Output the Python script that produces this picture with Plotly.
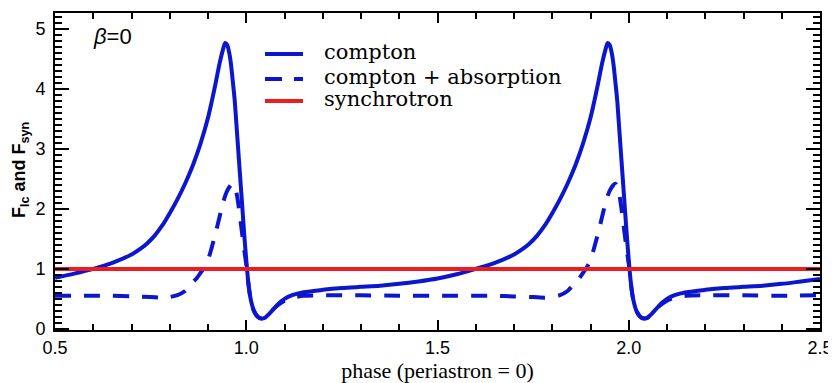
import plotly.graph_objects as go

# ---- data ----
phase = [
    0.50, 0.55, 0.60, 0.65, 0.70, 0.72, 0.74, 0.76, 0.78, 0.80, 0.82, 0.84, 0.86, 0.88, 0.90, 0.91, 0.92, 0.93, 0.94,
    0.945, 0.95, 0.955, 0.96, 0.965, 0.97, 0.975, 0.98, 0.985, 0.99, 0.995, 1.00, 1.005, 1.01, 1.015, 1.02,
    1.03, 1.04, 1.05, 1.06, 1.07, 1.08, 1.09, 1.10, 1.12, 1.15, 1.20, 1.25, 1.30, 1.35, 1.40, 1.45,
    1.50, 1.55, 1.60, 1.65, 1.70, 1.72, 1.74, 1.76, 1.78, 1.80, 1.82, 1.84, 1.86, 1.88, 1.90, 1.91, 1.92, 1.93, 1.94,
    1.945, 1.95, 1.955, 1.96, 1.965, 1.97, 1.975, 1.98, 1.985, 1.99, 1.995, 2.00, 2.005, 2.01, 2.015, 2.02,
    2.03, 2.04, 2.05, 2.06, 2.07, 2.08, 2.09, 2.10, 2.12, 2.15, 2.20, 2.25, 2.30, 2.35, 2.40, 2.45, 2.50,
]
compton = [
    0.85, 0.92, 1.00, 1.10, 1.24, 1.32, 1.42, 1.55, 1.72, 1.93, 2.16, 2.42, 2.72, 3.08, 3.52, 3.80, 4.10, 4.42, 4.68,
    4.77, 4.74, 4.62, 4.42, 4.12, 3.80, 3.35, 2.90, 2.45, 2.00, 1.55, 1.15, 0.80, 0.55, 0.40, 0.30,
    0.20, 0.17, 0.19, 0.25, 0.32, 0.39, 0.45, 0.50, 0.56, 0.61, 0.65, 0.68, 0.70, 0.72, 0.75, 0.79,
    0.84, 0.91, 1.00, 1.10, 1.24, 1.32, 1.42, 1.55, 1.72, 1.93, 2.16, 2.42, 2.72, 3.08, 3.52, 3.80, 4.10, 4.42, 4.68,
    4.77, 4.74, 4.62, 4.42, 4.12, 3.80, 3.35, 2.90, 2.45, 2.00, 1.55, 1.15, 0.80, 0.55, 0.40, 0.30,
    0.20, 0.17, 0.19, 0.25, 0.32, 0.39, 0.45, 0.50, 0.56, 0.61, 0.65, 0.68, 0.70, 0.72, 0.75, 0.79, 0.83,
]

phase_abs = [
    0.50, 0.55, 0.60, 0.65, 0.70, 0.75, 0.78, 0.80, 0.82, 0.84, 0.85, 0.86, 0.87, 0.88, 0.89, 0.90, 0.91, 0.92,
    0.93, 0.94, 0.95, 0.96, 0.965, 0.97, 0.975, 0.98, 0.985, 0.99, 0.995, 1.00, 1.005, 1.01, 1.015, 1.02,
    1.03, 1.04, 1.05, 1.06, 1.07, 1.08, 1.09, 1.10, 1.12, 1.15, 1.20, 1.30, 1.40,
    1.50, 1.55, 1.60, 1.65, 1.70, 1.75, 1.78, 1.80, 1.82, 1.84, 1.85, 1.86, 1.87, 1.88, 1.89, 1.90, 1.91, 1.92,
    1.93, 1.94, 1.95, 1.96, 1.965, 1.97, 1.975, 1.98, 1.985, 1.99, 1.995, 2.00, 2.005, 2.01, 2.015, 2.02,
    2.03, 2.04, 2.05, 2.06, 2.07, 2.08, 2.09, 2.10, 2.12, 2.15, 2.20, 2.30, 2.40, 2.50,
]
compton_absorption = [
    0.55, 0.55, 0.55, 0.55, 0.54, 0.53, 0.52, 0.53, 0.56, 0.63, 0.70, 0.78, 0.84, 0.93, 1.02, 1.15, 1.36, 1.60,
    1.86, 2.12, 2.30, 2.40, 2.42, 2.38, 2.25, 2.05, 1.80, 1.55, 1.30, 1.08, 0.78, 0.55, 0.40, 0.30,
    0.20, 0.17, 0.19, 0.25, 0.32, 0.38, 0.43, 0.47, 0.52, 0.55, 0.56, 0.56, 0.55,
    0.55, 0.55, 0.55, 0.55, 0.54, 0.53, 0.52, 0.53, 0.56, 0.63, 0.70, 0.78, 0.84, 0.93, 1.02, 1.15, 1.36, 1.60,
    1.86, 2.12, 2.30, 2.40, 2.42, 2.38, 2.25, 2.05, 1.80, 1.55, 1.30, 1.08, 0.78, 0.55, 0.40, 0.30,
    0.20, 0.17, 0.19, 0.25, 0.32, 0.38, 0.43, 0.47, 0.52, 0.55, 0.56, 0.56, 0.55, 0.56,
]

phase_syn = [0.5, 2.5]
synchrotron = [1.0, 1.0]

legend_names = ["compton", "compton + absorption", "synchrotron"]

X_RANGE = [0.5, 2.5]
Y_RANGE = [-0.02, 5.27]

BLUE = "rgb(12,22,205)"
RED = "rgb(238,28,28)"
DASH = "16px,13px"

# The page body has an 8px default margin, so the figure is drawn at (8, 8).
OFF = 8
W, H = 836 - OFF, 383 - OFF
L, R, T, B = 55 - OFF, 16, 13 - OFF, 53
pw, ph = W - L - R, H - T - B


def page_to_paper(xp, yp):
    """Convert a page pixel position (as seen in the reference) to paper coordinates."""
    return (xp - OFF - L) / pw, 1 - (yp - OFF - T) / ph


fig = go.Figure()
fig.add_trace(go.Scatter(x=phase, y=compton, mode="lines", name=legend_names[0],
                         line=dict(color=BLUE, width=4, shape="spline", smoothing=0.7), showlegend=False))
fig.add_trace(go.Scatter(x=phase_abs, y=compton_absorption, mode="lines", name=legend_names[1],
                         line=dict(color=BLUE, width=4, dash=DASH, shape="spline", smoothing=0.7),
                         showlegend=False))
fig.add_trace(go.Scatter(x=phase_syn, y=synchrotron, mode="lines", name=legend_names[2],
                         line=dict(color=RED, width=4), showlegend=False))
# invisible trace that carries the minor-tick overlay axes
fig.add_trace(go.Scatter(x=X_RANGE, y=Y_RANGE, mode="lines", line=dict(width=0), opacity=0,
                         xaxis="x2", yaxis="y2", showlegend=False, hoverinfo="skip"))

# manual legend
leg_styles = [dict(color=BLUE, width=4), dict(color=BLUE, width=4, dash="17px,12px"), dict(color=RED, width=4)]
leg_y = [54, 79, 101]  # page pixel rows
for name, st, yy in zip(legend_names, leg_styles, leg_y):
    x0, y0 = page_to_paper(265, yy)
    x1, _ = page_to_paper(303, yy)
    fig.add_shape(type="line", xref="paper", yref="paper", x0=x0, x1=x1, y0=y0, y1=y0, line=st)
    tx, ty = page_to_paper(322, yy - 2)
    fig.add_annotation(xref="paper", yref="paper", x=tx, y=ty, text=name, showarrow=False,
                       xanchor="left", yanchor="middle",
                       font=dict(family="DejaVu Serif", size=21, color="black"))

bx, by = page_to_paper(112, 37)
fig.add_annotation(xref="paper", yref="paper", x=bx, y=by, text="<i>β</i>=0", showarrow=False,
                   xanchor="center", yanchor="middle",
                   font=dict(family="Liberation Sans", size=22, color="black"))

# y-axis title placed as a rotated annotation for exact position
yx, yy_ = page_to_paper(20, 170)
fig.add_annotation(xref="paper", yref="paper", x=yx, y=yy_, textangle=-90,
                   text="<b>F<sub>lc</sub> and F<sub>syn</sub></b>", showarrow=False,
                   xanchor="center", yanchor="middle",
                   font=dict(family="Liberation Sans", size=18, color="black"))

axis_common = dict(showgrid=False, zeroline=False, showline=True, linecolor="black", linewidth=2,
                   mirror="ticks", ticks="inside", tickcolor="black", tickwidth=1.5, automargin=False)

fig.update_layout(
    xaxis=dict(range=X_RANGE, tickmode="linear", tick0=0.5, dtick=0.5, tickformat=".1f", ticklen=10,
               tickfont=dict(family="Liberation Sans", size=18, color="black"),
               title=dict(text="phase (periastron = 0)", standoff=3,
                          font=dict(family="Liberation Serif", size=22, color="black")),
               **axis_common),
    yaxis=dict(range=Y_RANGE, tickmode="linear", tick0=0, dtick=1, ticklen=14, ticklabelstandoff=4,
               tickfont=dict(family="Liberation Sans", size=18, color="black"),
               **axis_common),
    xaxis2=dict(range=X_RANGE, overlaying="x", anchor="y2", side="bottom", tickmode="linear", tick0=0.5,
                dtick=0.1, ticklen=6, showticklabels=False, showgrid=False, zeroline=False, showline=False,
                mirror="ticks", ticks="inside", tickcolor="black", tickwidth=1.5, automargin=False),
    yaxis2=dict(range=Y_RANGE, overlaying="y", anchor="x2", side="left", tickmode="linear", tick0=0,
                dtick=0.1, ticklen=7, showticklabels=False, showgrid=False, zeroline=False, showline=False,
                mirror="ticks", ticks="inside", tickcolor="black", tickwidth=1.5, automargin=False),
    width=W, height=H, margin=dict(l=L, r=R, t=T, b=B, autoexpand=False),
    plot_bgcolor="white", paper_bgcolor="white", showlegend=False,
)

fig.write_html("out.html")
